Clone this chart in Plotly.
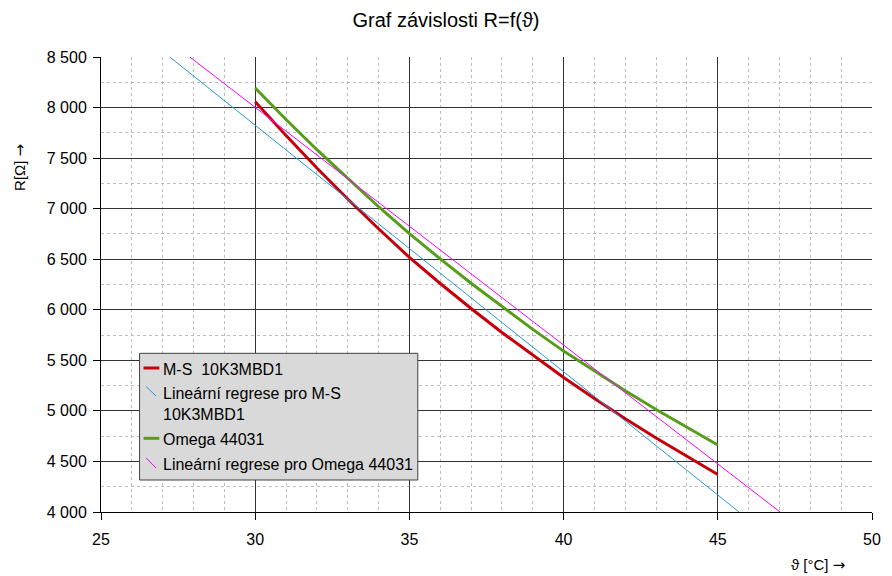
import plotly.graph_objects as go

# ---- data ----
temps = [30, 31, 32, 33, 34, 35, 36, 37, 38, 39, 40, 41, 42, 43, 44, 45]
r_ms = [8057, 7723, 7402, 7095, 6801, 6518, 6260, 6013, 5776, 5549,
        5330, 5123, 4923, 4732, 4548, 4371]
r_omega = [8193, 7882, 7583, 7296, 7019, 6754, 6503, 6262, 6030, 5806,
           5591, 5391, 5199, 5013, 4834, 4662]

# linear regression lines (end points on the plot edges)
reg_ms_t = [27.23, 45.69]
reg_ms_r = [8500, 4000]
reg_om_t = [27.88, 47.02]
reg_om_r = [8500, 4000]

series_names = ["M-S  10K3MBD1", "Lineární regrese pro M-S<br>10K3MBD1",
                "Omega 44031", "Lineární regrese pro Omega 44031"]
series_colors = ["#c5000b", "#2a95d5", "#579d1c", "#ff00ff"]

x_ticks = [25, 30, 35, 40, 45, 50]
x_ticktext = ["25", "30", "35", "40", "45", "50"]
y_ticks = [4000, 4500, 5000, 5500, 6000, 6500, 7000, 7500, 8000, 8500]
y_ticktext = ["4 000", "4 500", "5 000", "5 500", "6 000", "6 500",
              "7 000", "7 500", "8 000", "8 500"]

title_text = "Graf závislosti R=f(ϑ)"
ARROW = "<span style='font-family:DejaVu Sans'>→</span>"
x_title = "ϑ [°C] " + ARROW
y_title = "R[Ω] " + ARROW

# ---- layout geometry ----
W, H = 892, 576
ML, MR, MT, MB = 101, 11, 57, 64
PW, PH = W - ML - MR, H - MT - MB


def px(xp):
    return (xp - ML) / PW


def py(yp):
    return (H - MB - yp) / PH


FONT = "Liberation Sans, Arial, sans-serif"

fig = go.Figure()
fig.add_trace(go.Scatter(x=temps, y=r_ms, mode="lines", name=series_names[0],
                         line=dict(color=series_colors[0], width=3), showlegend=False))
fig.add_trace(go.Scatter(x=reg_ms_t, y=reg_ms_r, mode="lines", name=series_names[1],
                         line=dict(color=series_colors[1], width=1), showlegend=False))
fig.add_trace(go.Scatter(x=temps, y=r_omega, mode="lines", name=series_names[2],
                         line=dict(color=series_colors[2], width=3), showlegend=False))
fig.add_trace(go.Scatter(x=reg_om_t, y=reg_om_r, mode="lines", name=series_names[3],
                         line=dict(color=series_colors[3], width=1), showlegend=False))

axis_common = dict(
    showline=True, linecolor="#000", linewidth=1,
    ticks="outside", ticklen=7, tickcolor="#000", tickwidth=1,
    showgrid=True, gridcolor="#333333", gridwidth=1,
    zeroline=False, tickfont=dict(family=FONT, size=16, color="#000"),
)

fig.update_xaxes(range=[25, 50], tickvals=x_ticks, ticktext=x_ticktext,
                 minor=dict(dtick=1, tick0=25, showgrid=True, gridcolor="#bdbdbd",
                            griddash="3px,3px", gridwidth=1, ticks=""),
                 ticklabelstandoff=6, **axis_common)
fig.update_yaxes(range=[4000, 8500], tickvals=y_ticks, ticktext=y_ticktext,
                 minor=dict(dtick=250, tick0=4000, showgrid=True, gridcolor="#bdbdbd",
                            griddash="3px,3px", gridwidth=1, ticks=""),
                 ticklabelstandoff=3, **axis_common)

shapes = []
annotations = []

# legend box
shapes.append(dict(type="rect", xref="paper", yref="paper",
                   x0=px(140), x1=px(421.5), y0=py(480), y1=py(353.3),
                   fillcolor="#d9d9d9", line=dict(color="#404040", width=1)))
# legend samples
shapes.append(dict(type="line", xref="paper", yref="paper", x0=px(144), x1=px(160),
                   y0=py(368), y1=py(368), line=dict(color=series_colors[0], width=3)))
shapes.append(dict(type="line", xref="paper", yref="paper", x0=px(146.7), x1=px(156.7),
                   y0=py(386.7), y1=py(396), line=dict(color=series_colors[1], width=1)))
shapes.append(dict(type="line", xref="paper", yref="paper", x0=px(144), x1=px(160),
                   y0=py(438.3), y1=py(438.3), line=dict(color=series_colors[2], width=3)))
shapes.append(dict(type="line", xref="paper", yref="paper", x0=px(146.7), x1=px(156.7),
                   y0=py(458), y1=py(468), line=dict(color=series_colors[3], width=1)))

legend_y = [369, 404, 439, 464]
for name, yy in zip(series_names, legend_y):
    annotations.append(dict(text=name, xref="paper", yref="paper", x=px(162), y=py(yy),
                            xanchor="left", yanchor="middle", showarrow=False, align="left",
                            font=dict(family=FONT, size=16, color="#000")))

annotations.append(dict(text=y_title, xref="paper", yref="paper", x=px(19), y=py(167),
                        xanchor="center", yanchor="middle", textangle=-90, showarrow=False,
                        font=dict(family=FONT, size=15, color="#000")))
annotations.append(dict(text=x_title, xref="paper", yref="paper", x=px(826), y=py(565),
                        xanchor="center", yanchor="middle", showarrow=False,
                        font=dict(family=FONT, size=15, color="#000")))

fig.update_layout(
    width=W, height=H,
    margin=dict(l=ML, r=MR, t=MT, b=MB),
    paper_bgcolor="#fff", plot_bgcolor="#fff",
    title=dict(text=title_text, x=446 / W, xanchor="center", y=1 - 20 / H, yanchor="middle",
               font=dict(family=FONT, size=20, color="#000")),
    shapes=shapes, annotations=annotations,
    showlegend=False,
)

fig.write_html("out.html", config={"displayModeBar": False},
               post_script="document.body.style.margin='0';document.body.style.overflow='hidden';")
